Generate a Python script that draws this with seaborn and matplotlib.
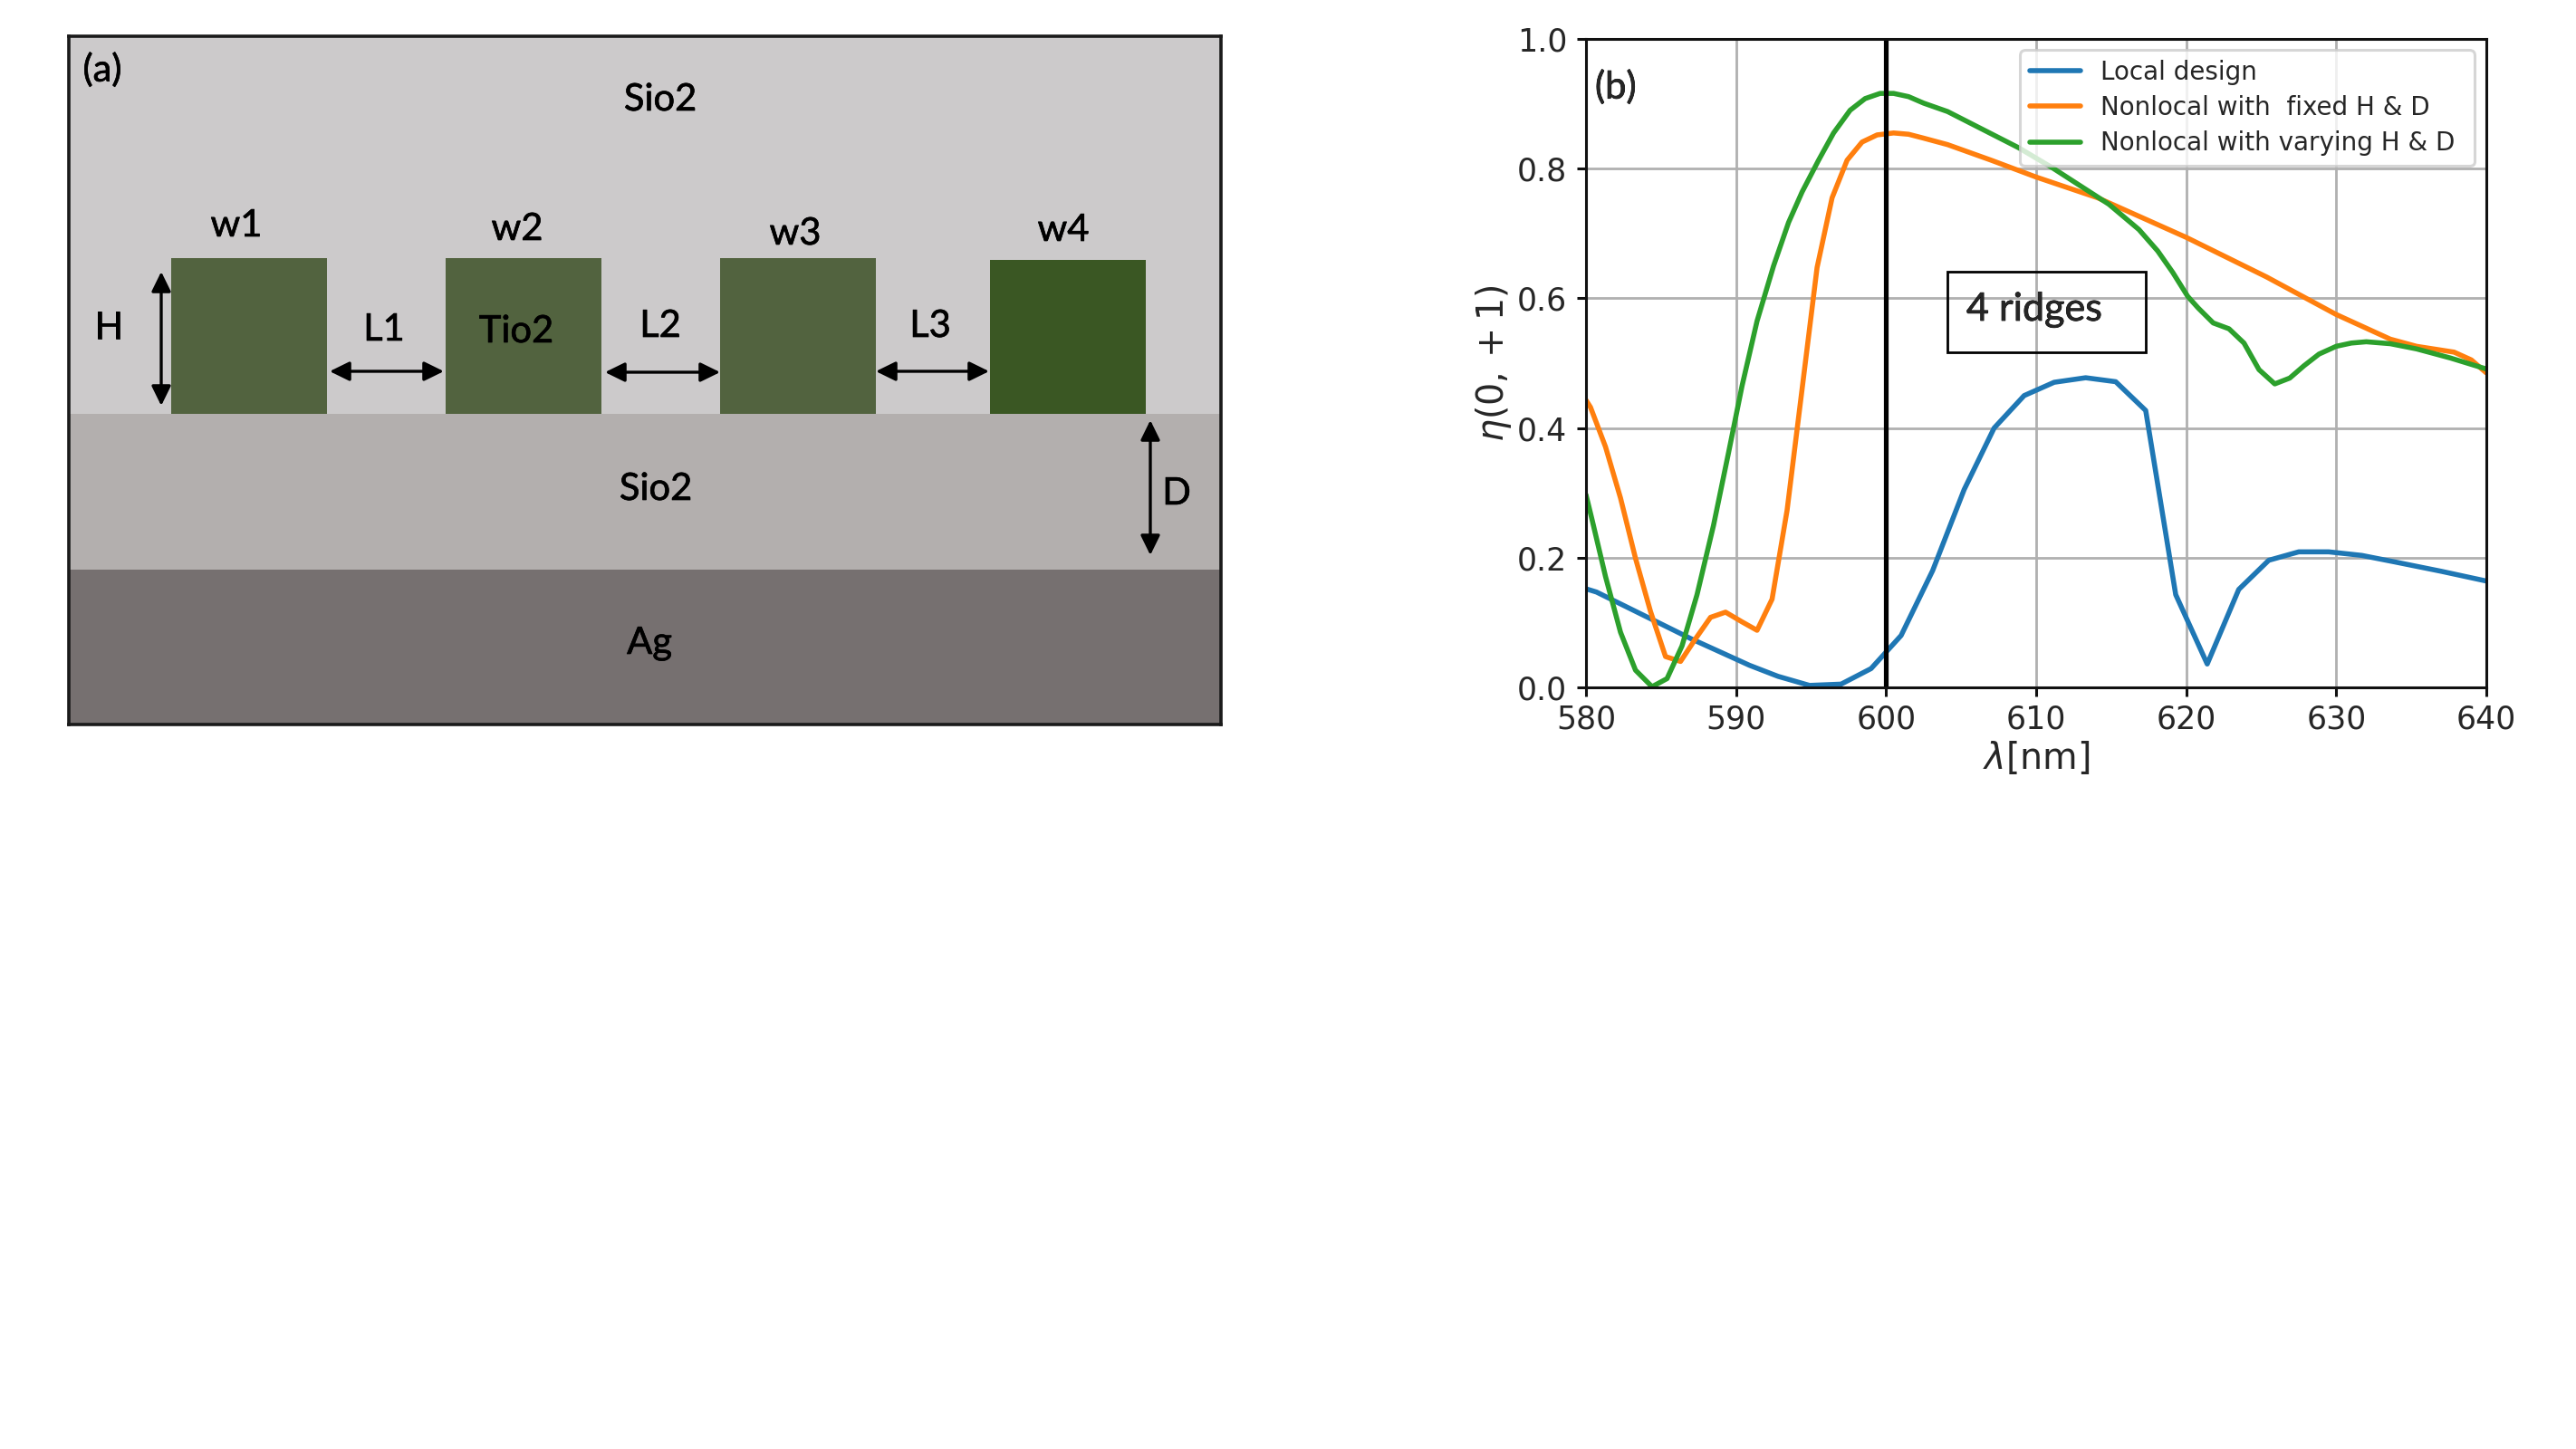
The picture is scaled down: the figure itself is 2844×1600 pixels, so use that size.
import matplotlib
matplotlib.use("Agg")
import matplotlib.pyplot as plt
import matplotlib.patheffects as pe
import pandas as pd
import seaborn as sns

sns.set_style("ticks")
plt.rcParams['font.family'] = ['DejaVu Sans']
plt.rcParams['mathtext.fontset'] = 'dejavusans'

# ---- panel (b) data ----
local_x = [580, 580.7, 582.8, 584.9, 587, 589, 590.9, 592.8, 594.9, 597, 599, 601, 603.1, 605.2, 607.2,
           609.2, 611.2, 613.3, 615.3, 617.3, 619.3, 621.4, 623.5, 625.5, 627.5, 629.5, 631.7, 634, 637, 640]
local_y = [.152, .147, .123, .099, .075, .054, .034, .017, .003, .005, .029, .08, .18, .305, .40,
           .45, .4705, .4775, .4714, .427, .143, .036, .151, .196, .209, .209, .2035, .193, .179, .164]
fixed_x = [580, 580.3, 581.3, 582.3, 583.3, 584.3, 585.3, 586.3, 587.3, 588.3, 589.3, 590.4, 591.4, 592.4, 593.4,
           594.4, 595.4, 596.4, 597.4, 598.4, 599.4, 600.5, 601.5, 602.5, 604.1, 607, 610, 614.1, 620, 625.35,
           630, 633.6, 635.35, 637.85, 639, 640]
fixed_y = [.443, .432, .371, .292, .199, .117, .0475, .04, .075, .108, .116, .101, .088, .136, .273,
           .46, .6475, .755, .813, .841, .852, .855, .853, .847, .837, .813, .787, .755, .694, .633,
           .575, .537, .526, .517, .505, .485]
vary_x = [580, 580.4, 581.3, 582.3, 583.3, 584.4, 585.4, 586.4, 587.4, 588.5, 589.5, 590.4, 591.4, 592.5, 593.5,
          594.4, 595.5, 596.5, 597.6, 598.6, 599.6, 600.5, 601.5, 602.5, 604.1, 608.85, 611.1, 614.85, 616.85, 618.1,
          619.1, 620.1, 620.8, 621.8, 622.85, 623.85, 624.85, 625.9, 626.9, 627.85, 628.85, 630, 631, 632, 633.6,
          635.35, 637.6, 640]
vary_y = [.297, .259, .171, .085, .0265, .001, .0135, .064, .143, .25, .362, .465, .565, .650, .717,
          .764, .813, .855, .89, .908, .916, .916, .911, .901, .888, .832, .801, .745, .706, .673,
          .64, .603, .585, .562, .553, .531, .49, .468, .477, .496, .514, .526, .531, .533, .53,
          .522, .508, .491]
series_names = ["Local design", "Nonlocal with  fixed H & D", "Nonlocal with varying H & D"]
xticks = [580, 590, 600, 610, 620, 630, 640]
yticks = [0.0, 0.2, 0.4, 0.6, 0.8, 1.0]

# ---- panel (a) schematic ----
layer_tops = [40, 457, 629]
layer_bottoms = [457, 629, 800]
layer_colors = ["#cccacb", "#b3afae", "#767070"]
ridge_left = [189, 492, 795, 1093]
ridge_right = [361, 664, 967, 1265]
ridge_top = [285, 285, 285, 287]
ridge_colors = ["#52633f", "#52633f", "#52633f", "#3a5723"]
labels_a = [("(a)", 113, 77), ("Sio2", 729, 110), ("w1", 261, 249), ("w2", 571, 253), ("w3", 878, 258),
            ("w4", 1174, 254), ("H", 120, 362), ("L1", 424, 364), ("Tio2", 570, 366), ("L2", 729, 360),
            ("L3", 1027, 360), ("D", 1299, 545), ("Sio2", 724, 540), ("Ag", 717, 710)]
arrows_a = [((178, 300), (178, 448)), ((364, 410), (490, 410)), ((668, 411), (795, 411)),
            ((967, 410), (1092, 410)), ((1270, 464), (1270, 613))]

W, H = 2844, 1600
bold = [pe.withStroke(linewidth=0.5, foreground="black")]
fig = plt.figure(figsize=(W / 100, H / 100), dpi=100, facecolor="white")

# panel (a)
axa = fig.add_axes([76 / W, 1 - 800 / H, (1348 - 76) / W, (800 - 40) / H])
axa.set_xlim(76, 1348)
axa.set_ylim(800, 40)
axa.set_xticks([])
axa.set_yticks([])
for s in axa.spines.values():
    s.set_linewidth(2.6)
    s.set_color("#1a1a1a")
for t, b, c in zip(layer_tops, layer_bottoms, layer_colors):
    axa.barh((t + b) / 2, 1272, height=b - t, left=76, color=c, linewidth=0)
for l, r, t, c in zip(ridge_left, ridge_right, ridge_top, ridge_colors):
    axa.bar((l + r) / 2, 457 - t, width=r - l, bottom=t, color=c, linewidth=0)
for s, x, y in labels_a:
    axa.text(x, y, s, family="Lato", fontsize=30, color="black", ha="center", va="center", path_effects=bold)
for a, b in arrows_a:
    axa.annotate("", xy=b, xytext=a, arrowprops=dict(arrowstyle="<|-|>,head_length=0.55,head_width=0.27",
                 color="black", lw=2.4, shrinkA=0, shrinkB=0, mutation_scale=24))

# panel (b)
axb = fig.add_axes([1751 / W, 1 - 759 / H, (2745 - 1751) / W, (759 - 43) / H])
palette = sns.color_palette("tab10")
data = [(local_x, local_y), (fixed_x, fixed_y), (vary_x, vary_y)]
for (x, y), name, col in zip(data, series_names, palette):
    df = pd.DataFrame({"wavelength": x, "eta": y})
    sns.lineplot(data=df, x="wavelength", y="eta", ax=axb, color=col, linewidth=4, label=name,
                 estimator=None, sort=False)
axb.axvline(600, color="black", linewidth=3.75)
axb.set_xlim(580, 640)
axb.set_ylim(0, 1)
axb.set_xticks(xticks)
axb.set_yticks(yticks)
axb.grid(True, color="#b0b0b0", linewidth=2)
axb.set_axisbelow(True)
axb.tick_params(labelsize=25, length=7, width=2.2, color="#111111")
axb.tick_params(axis="x", pad=6)
axb.tick_params(axis="y", pad=8)
for s in axb.spines.values():
    s.set_linewidth(2.2)
    s.set_color("#111111")
axb.set_xlabel(r"$\lambda$[nm]", fontsize=28.5, labelpad=4)
axb.set_ylabel(r"$\eta(0,+1)$", fontsize=28.5, labelpad=3)
leg = axb.legend(loc="upper left",
                 bbox_to_anchor=((2230 - 1751) / 994, 1 - (55 - 43) / 716 - 0.1, 502 / 994, 0.1),
                 mode="expand", fontsize=20, framealpha=0.8, borderaxespad=0, handlelength=2.0, labelspacing=0.4)
leg.get_frame().set_linewidth(2.2)
axb.text(10 / 994, 1 - 53 / 716, "(b)", transform=axb.transAxes, family="Lato", fontsize=30,
         ha="left", va="center", path_effects=bold)
box = plt.Rectangle((2150 / W, 1 - 389 / H), 219 / W, 89 / H, transform=fig.transFigure, fill=False,
                    edgecolor="black", linewidth=2, zorder=5)
fig.add_artist(box)
fig.text(2171 / W, 1 - 342 / H, "4 ridges", family="Lato", fontsize=31, ha="left", va="center", zorder=6,
         path_effects=bold)

fig.savefig("out.png", dpi=100, facecolor="white")
